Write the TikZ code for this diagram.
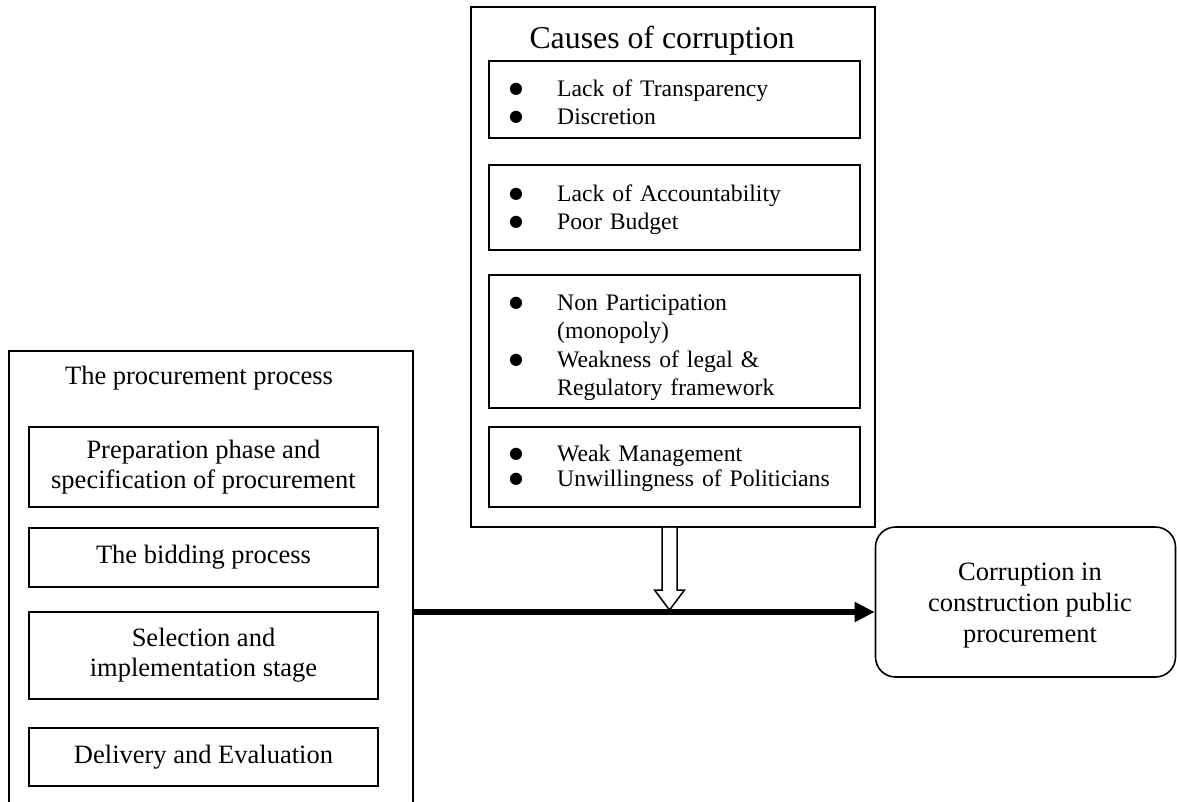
\documentclass[tikz,border=0pt]{standalone}
\usepackage{fontspec}
\setmainfont{Liberation Serif}
\newfontfamily\dvsfont{DejaVu Sans}
\usetikzlibrary{arrows.meta,calc}
\newcommand{\bul}{\makebox[68pt][l]{\hspace*{20pt}\raisebox{3pt}{\dvsfont\fontsize{16}{16}\selectfont ●}}}
\newcommand{\nobul}{\hspace*{68pt}}
\begin{document}
\begin{tikzpicture}[x=1pt,y=-1pt,
  box/.style={draw, line width=1.6pt, rectangle, inner sep=0pt},
  lbox/.style={box, minimum width=349pt, align=center, font=\fontsize{26.5}{30}\selectfont},
  cbox/.style={box, minimum width=371pt},
  ctext/.style={inner sep=0pt, anchor=base west, text width=371pt, align=left, font=\fontsize{23.7}{28.5}\selectfont},
  ltitle/.style={inner sep=0pt, font=\fontsize{26.5}{30}\selectfont},
  ctitle/.style={inner sep=0pt, font=\fontsize{31.8}{36}\selectfont},
  rbox/.style={box, rounded corners=20pt, minimum width=300pt, minimum height=150pt},
  rtext/.style={inner sep=0pt, align=center, font=\fontsize{26.5}{31}\selectfont},
  thickarrow/.style={line width=6pt, -{Triangle[length=20pt,width=19pt]}},
  hollowarrow/.style={line width=1.5pt, fill=white, line join=miter}
]
\useasboundingbox (0,0) rectangle (1177,801);
\clip (0,0) rectangle (1177,801);

% left: procurement process
\node[box, minimum width=404pt, minimum height=470pt] (L) at (211,586) {};
\node[ltitle] (Lt) at (199,378) {The procurement process};
\node[lbox, minimum height=80pt] (p1) at (203.5,467) {Preparation phase and\\specification of procurement};
\node[lbox, minimum height=59pt] (p2) at (203.5,557.5) {The bidding process};
\node[lbox, minimum height=87pt] (p3) at (203.5,655.5) {Selection and\\implementation stage};
\node[lbox, minimum height=58pt] (p4) at (203.5,757) {Delivery and Evaluation};

% middle: causes
\node[box, minimum width=404pt, minimum height=520pt] (C) at (673,267) {};
\node[ctitle] (Ct) at (662,41) {Causes of corruption};
\node[cbox, minimum height=77pt] (c1) at (674.5,99.5) {};
\node[ctext] (c1t) at (489,96.3) {\bul Lack of Transparency\\\bul Discretion};
\node[cbox, minimum height=85pt] (c2) at (674.5,207.5) {};
\node[ctext] (c2t) at (489,201.3) {\bul Lack of Accountability\\\bul Poor Budget};
\node[cbox, minimum height=133pt] (c3) at (674.5,341.5) {};
\node[ctext] (c3t) at (489,310.3) {\bul Non Participation\\\nobul(monopoly)\\\bul Weakness of legal \&\\\nobul Regulatory framework};
\node[cbox, minimum height=80pt] (c4) at (674.5,467) {};
\node[ctext] (c4t) at (489,461.3) {\bul Weak Management\\[-3.5pt]\bul Unwillingness of Politicians};

% right: result
\node[rbox] (R) at (1025.5,602) {};
\node[rtext] (Rt) at (1030,606) {Corruption in\\construction public\\procurement};

% connectors
\coordinate (tip) at (669.5,610);
\draw[hollowarrow] ($(tip |- C.south)+(-7.5,0)$) -- ($(tip)+(-7.5,-20)$) -- ($(tip)+(-15,-20)$) -- (tip)
  -- ($(tip)+(15,-20)$) -- ($(tip)+(7.5,-20)$) -- ($(tip |- C.south)+(7.5,0)$);
\coordinate (j) at (413,612);
\draw[thickarrow] (j) -- (j -| R.west);
\end{tikzpicture}
\end{document}
